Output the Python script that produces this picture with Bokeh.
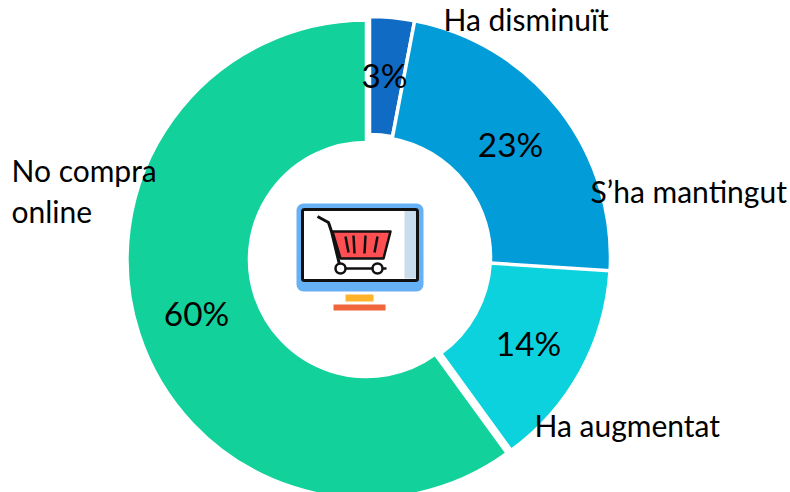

import math
from bokeh.plotting import figure
from bokeh.embed import file_html
from bokeh.resources import INLINE
from bokeh.models import Range1d
from bokeh.core.properties import value

categories = ["Ha disminuït", "S’ha mantingut", "Ha augmentat", "No compra\nonline"]
values = [3, 23, 14, 60]
pct_labels = ["3%", "23%", "14%", "60%"]
colors = ["#106BC4", "#029DD9", "#0CD2DE", "#13D19B"]

W, H = 790, 492
p = figure(width=W, height=H, output_backend="svg", toolbar_location=None,
           x_range=Range1d(0, W), y_range=Range1d(0, H), min_border=0)
p.axis.visible = False
p.grid.visible = False
p.outline_line_color = None


def Y(py):
    if isinstance(py, (list, tuple)):
        return [H - v for v in py]
    return H - py


total = sum(values)
angle = math.pi / 2
starts, ends = [], []
for v in values:
    starts.append(angle - v / total * 2 * math.pi)
    ends.append(angle)
    angle = starts[-1]

cxs = [369, 369, 369, 366]
cys = [Y(257), Y(257), Y(255), Y(259)]
inner = [123, 121, 121, 117]
outer = [241, 241, 241, 239.5]
p.annular_wedge(cxs, cys, inner, outer, start_angle=starts, end_angle=ends,
                direction="anticlock", fill_color=colors, line_color="white", line_width=3.5)

font = value("Lato")
tx = [384, 510, 528, 196]
ty = [74, 143, 342, 312]
p.text(tx, Y(ty), text=pct_labels, text_font_size="25pt", text_align="center",
       text_baseline="middle", text_font=font, text_color="#000000")
lx = [443, 590, 534, 11]
ly = [18, 190, 424, 190]
p.text(lx, Y(ly), text=categories, text_font_size="22.5pt", text_align="left",
       text_baseline="middle", text_font=font, text_color="#000000", text_line_height=1.12)

# monitor icon
p.quad(left=[297], right=[422], top=Y([204]), bottom=Y([290]), fill_color="#66B0F5",
       line_color="#66B0F5", line_width=2, line_join="round", border_radius=6)
p.quad(left=[302], right=[417], top=Y([209]), bottom=Y([280]), fill_color="white",
       line_color=None)
p.quad(left=[404], right=[416], top=Y([210]), bottom=Y([278]), fill_color="#C9DDED",
       line_color=None)
p.quad(left=[302], right=[417], top=Y([209]), bottom=Y([280]), fill_color=None,
       line_color="#111111", line_width=3, line_join="round", border_radius=2)
p.quad(left=[345], right=[373], top=Y([294]), bottom=Y([301]), fill_color="#FFB32A", line_color=None)
p.quad(left=[333], right=[385], top=Y([304]), bottom=Y([310]), fill_color="#F0653A", line_color=None)
# cart
p.patch([332, 390, 383, 340], Y([231, 231, 258, 258]), fill_color="#FF4F52",
        line_color="#111111", line_width=2.5, line_join="round")
p.line([317, 328, 331, 339], Y([216, 222, 231, 264]), line_color="#111111", line_width=3)
p.line([340, 386], Y([268, 268]), line_color="#111111", line_width=2.5)
p.multi_line([[345, 348], [353, 354], [365, 364], [377, 374]],
             [Y([236, 252]), Y([235, 253]), Y([235, 253]), Y([236, 252])],
             line_color="#111111", line_width=2.5)
p.scatter([340, 377], Y([268, 268]), size=10, fill_color="white", line_color="#111111", line_width=2.5)

open("out.html", "w").write(file_html(p, INLINE))
